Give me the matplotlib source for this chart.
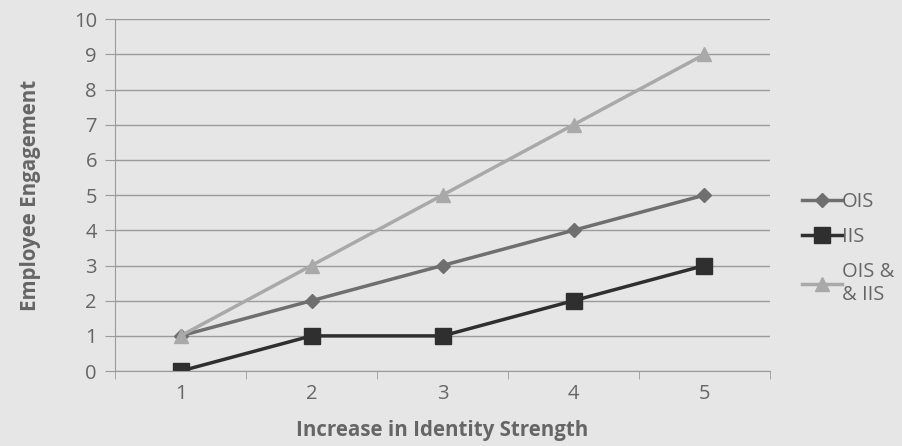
import matplotlib.pyplot as plt
from matplotlib.ticker import FixedLocator

# data
strength = [1, 2, 3, 4, 5]
ois = [1, 2, 3, 4, 5]
iis = [0, 1, 1, 2, 3]
ois_iis = [1, 3, 5, 7, 9]

bg = '#e6e6e6'
grid_col = '#9a9a9a'
text_col = '#666666'

plt.rcParams['font.family'] = ['Open Sans', 'DejaVu Sans']

fig = plt.figure(figsize=(9.03, 4.46), dpi=100, facecolor=bg)
ax = fig.add_axes([0.1274, 0.168, 0.7253, 0.789], facecolor=bg)

l1, = ax.plot(strength, ois, color='#6f6f6f', lw=2.5, marker='D', ms=7,
              label='OIS')
l2, = ax.plot(strength, iis, color='#2f2f2f', lw=2.5, marker='s', ms=11,
              label='IIS')
l3, = ax.plot(strength, ois_iis, color='#a9a9a9', lw=2.5, marker='^', ms=10,
              label='OIS &\n& IIS')

ax.set_xlim(0.5, 5.5)
ax.set_ylim(0, 10)
ax.set_yticks(range(0, 11))
ax.set_xticks(strength)
ax.xaxis.set_minor_locator(FixedLocator([0.5, 1.5, 2.5, 3.5, 4.5, 5.5]))
ax.tick_params(axis='x', which='major', length=0, pad=9, labelsize=14.5,
               labelcolor=text_col)
ax.tick_params(axis='x', which='minor', length=6, color=grid_col)
ax.tick_params(axis='y', length=7, color=grid_col, pad=6, labelsize=14.5,
               labelcolor=text_col)
ax.grid(axis='y', color=grid_col, lw=1)
ax.set_axisbelow(True)
for side in ['top', 'right']:
    ax.spines[side].set_visible(False)
for side in ['left', 'bottom']:
    ax.spines[side].set_color(grid_col)

ax.set_xlabel('Increase in Identity Strength', fontsize=14.8,
              fontweight='bold', color=text_col, labelpad=12)
ax.set_ylabel('Employee Engagement', fontsize=14.8, fontweight='bold',
              color=text_col, labelpad=24)

leg = fig.legend(handles=[l1, l2, l3], loc='upper left',
                 bbox_to_anchor=(0.868, 0.61), frameon=False, fontsize=14.5,
                 handlelength=2.0, handletextpad=0.0, labelspacing=0.75,
                 labelcolor=text_col)

fig.savefig('out.png', dpi=100, facecolor=bg)
